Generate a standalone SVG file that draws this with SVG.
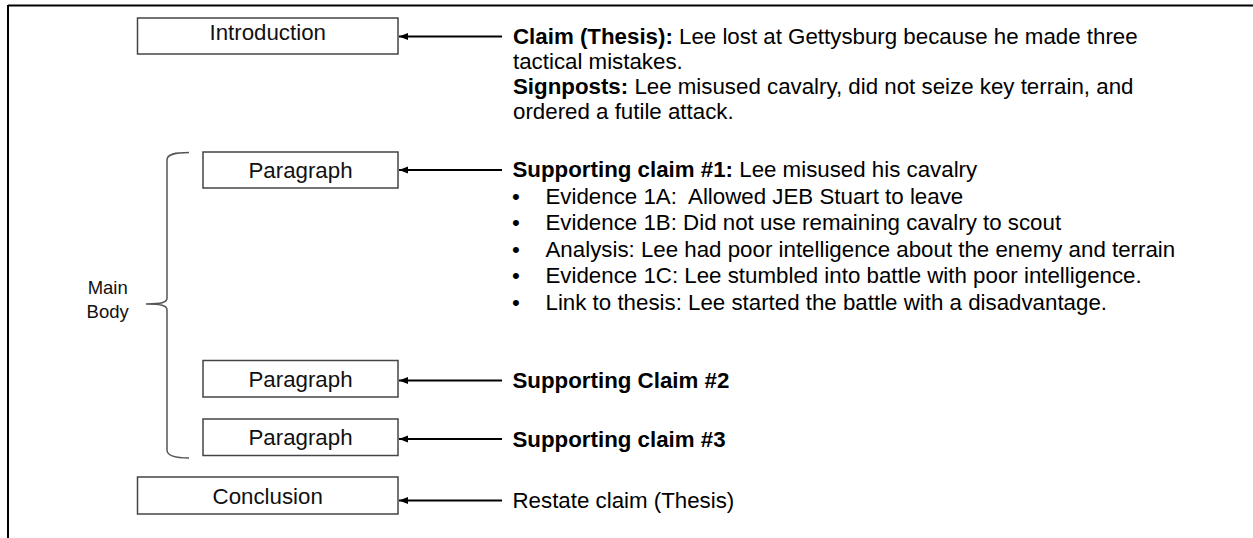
<svg xmlns="http://www.w3.org/2000/svg" width="1253" height="538" viewBox="0 0 1253 538">
<style>
text{font-family:"Liberation Sans",Arial,sans-serif;font-size:22.3px;fill:#000}
.lbl{text-anchor:middle;fill:#111}
.box{fill:#fff;stroke:#444;stroke-width:1.5}
.b{font-weight:bold}
.arr{stroke:#000;stroke-width:2.2;fill:none;marker-end:url(#ah)}
.brace{fill:none;stroke:#555;stroke-width:1.5}
</style>
<defs>
<marker id="ah" markerWidth="10" markerHeight="8" refX="9" refY="4" orient="auto" markerUnits="userSpaceOnUse">
<path d="M0,0.5 L9,4 L0,7.5 Z" fill="#000"/>
</marker>
</defs>
<rect width="1253" height="538" fill="#fff"/>
<g id="frame">
<line x1="8" y1="5.5" x2="1253" y2="5.5" stroke="#000" stroke-width="2"/>
<line x1="8" y1="5" x2="8" y2="538" stroke="#000" stroke-width="2"/>
</g>
<g id="connectors">
<line class="arr" x1="502" y1="36.5" x2="399" y2="36.5"/>
<line class="arr" x1="502" y1="170" x2="399" y2="170"/>
<line class="arr" x1="502" y1="380.5" x2="399" y2="380.5"/>
<line class="arr" x1="502" y1="439" x2="399" y2="439"/>
<line class="arr" x1="502" y1="500.5" x2="399" y2="500.5"/>
</g>
<g id="introduction">
<rect class="box" x="137.5" y="18" width="260.5" height="36"/>
<text class="lbl" x="267.7" y="39.5">Introduction</text>
</g>
<g id="paragraph1">
<rect class="box" x="203" y="152" width="195" height="36"/>
<text class="lbl" x="300.5" y="177.5">Paragraph</text>
</g>
<g id="paragraph2">
<rect class="box" x="203" y="360.5" width="195" height="36.5"/>
<text class="lbl" x="300.5" y="386.5">Paragraph</text>
</g>
<g id="paragraph3">
<rect class="box" x="203" y="419" width="195" height="36.5"/>
<text class="lbl" x="300.5" y="445">Paragraph</text>
</g>
<g id="conclusion">
<rect class="box" x="137.5" y="477" width="260.5" height="37"/>
<text class="lbl" x="267.7" y="504">Conclusion</text>
</g>
<g id="main-body">
<path class="brace" d="M189,152.5 C175,152.5 167,154 167,160 L167,298 C167,302 163,304 146,304 C163,304 167,306 167,310 L167,450 C167,456 175,458 189,458"/>
<text style="font-size:18.5px;text-anchor:middle;fill:#111" x="107.7" y="294">Main</text>
<text style="font-size:18.5px;text-anchor:middle;fill:#111" x="107.7" y="318">Body</text>
</g>
<g id="intro-text">
<text x="513" y="43.5"><tspan class="b">Claim (Thesis):</tspan> Lee lost at Gettysburg because he made three</text>
<text x="513" y="68.5">tactical mistakes.</text>
<text x="513" y="94"><tspan class="b">Signposts:</tspan> Lee misused cavalry, did not seize key terrain, and</text>
<text x="513" y="119">ordered a futile attack.</text>
</g>
<g id="claim1-text">
<text x="512.5" y="177"><tspan class="b">Supporting claim #1:</tspan> Lee misused his cavalry</text>
<text x="512" y="203.5">•</text><text x="545.5" y="203.5" xml:space="preserve">Evidence 1A:  Allowed JEB Stuart to leave</text>
<text x="512" y="230">•</text><text x="545.5" y="230">Evidence 1B: Did not use remaining cavalry to scout</text>
<text x="512" y="256.5">•</text><text x="545.5" y="256.5">Analysis: Lee had poor intelligence about the enemy and terrain</text>
<text x="512" y="283">•</text><text x="545.5" y="283">Evidence 1C: Lee stumbled into battle with poor intelligence.</text>
<text x="512" y="309.5">•</text><text x="545.5" y="309.5">Link to thesis: Lee started the battle with a disadvantage.</text>
</g>
<g id="claim2-text">
<text class="b" x="512.5" y="388">Supporting Claim #2</text>
</g>
<g id="claim3-text">
<text class="b" x="512.5" y="446.5">Supporting claim #3</text>
</g>
<g id="conclusion-text">
<text x="512.5" y="507.5">Restate claim (Thesis)</text>
</g>
</svg>
